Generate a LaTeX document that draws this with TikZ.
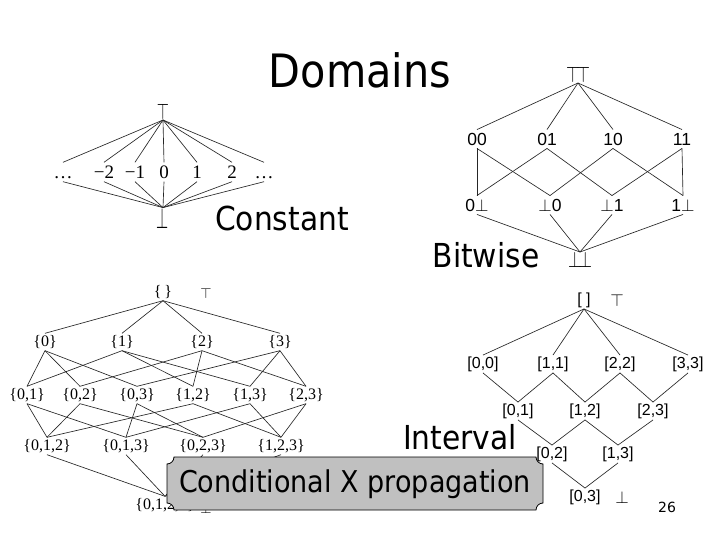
\documentclass[tikz,border=0pt]{standalone}
\usepackage{fontspec}
\setmainfont{Liberation Serif}
\newfontfamily\labfont[FakeStretch=0.9]{DejaVu Sans}
\newfontfamily\helfont{Liberation Sans}
\newfontfamily\numfont{DejaVu Sans}
\definecolor{boxgray}{RGB}{192,192,192}
\begin{document}
\begin{tikzpicture}[x=1pt,y=-1pt,
  edge/.style={line width=0.65pt,black!85},
  cst/.style={font=\fontsize{19}{21}\selectfont,inner sep=3pt,text height=13pt,text depth=0pt},
  sym/.style={inner sep=0pt,font=\fontsize{18}{20}\selectfont},
  bw/.style={font=\helfont\fontsize{17.5}{19}\selectfont,inner sep=3pt,text height=12.5pt,text depth=0pt},
  iv/.style={font=\helfont\fontsize{16}{18}\selectfont,inner sep=1.5pt,text height=11.5pt,text depth=3pt},
  ser/.style={font=\fontsize{16}{18}\selectfont,inner sep=1.5pt,text height=11pt,text depth=3pt},
  lab/.style={font=\labfont\fontsize{33}{36}\selectfont,inner sep=0pt},
  ttl/.style={font=\labfont\fontsize{46}{50}\selectfont,inner sep=0pt}]
\useasboundingbox[fill=white] (0,0) rectangle (720,540);

% title
\node[ttl] (title) at (360,70) {Domains};

% ---------- Constant lattice ----------
\node[sym] (ct) at (163,112) {\scalebox{0.9}[1.3]{$\top$}};
\node[cst] (c1) at (63,172) {\ldots};
\node[cst] (c2) at (104,172) {−2};
\node[cst] (c3) at (135,172) {−1};
\node[cst] (c4) at (164,172) {0};
\node[cst] (c5) at (197,172) {1};
\node[cst] (c6) at (232,172) {2};
\node[cst] (c7) at (264,172) {\ldots};
\node[sym] (cb) at (163,218) {\scalebox{0.9}[1.7]{$\bot$}};
\foreach \n in {c1,c2,c3,c4,c5,c6,c7}{
  \draw[edge] (ct.south) -- (\n.north);
  \draw[edge] (\n.south) -- (cb.north);
}
\node[lab] (constant) at (282,218) {Constant};

% ---------- Bitwise lattice ----------
\node[inner sep=0pt,font=\fontsize{16}{18}\selectfont] (bt) at (578,75) {\scalebox{1}[1.3]{$\top\!\top$}};
\node[bw] (b00) at (477,139) {00};
\node[bw] (b01) at (547,139) {01};
\node[bw] (b10) at (613,139) {10};
\node[bw] (b11) at (682,139) {11};
\node[bw] (b0x) at (477,205) {0$\bot$};
\node[bw] (bx0) at (550,205) {$\bot$0};
\node[bw] (bx1) at (612,205) {$\bot$1};
\node[bw] (b1x) at (683,205) {1$\bot$};
\node[inner sep=0pt,font=\fontsize{16}{18}\selectfont] (bb) at (580,260) {\scalebox{1}[1.3]{$\bot\!\bot$}};
\foreach \n in {b00,b01,b10,b11}{\draw[edge] (bt.south) -- (\n.north);}
\foreach \a/\b in {b00/b0x,b00/bx0,b01/b0x,b01/bx1,b10/bx0,b10/b1x,b11/bx1,b11/b1x}{\draw[edge] (\a.south) -- (\b.north);}
\foreach \n in {b0x,bx0,bx1,b1x}{\draw[edge] (\n.south) -- (bb.north);}
\node[lab] (bitwise) at (486,255) {Bitwise};

% ---------- Subset lattice ----------
\node[ser] (s) at (163,292) {\{\,\}};
\node[inner sep=0pt,font=\fontsize{15}{17}\selectfont] (stop) at (206,293) {$\top$};
\node[ser] (s0) at (45,342) {\{0\}};
\node[ser] (s1) at (122,342) {\{1\}};
\node[ser] (s2) at (202,342) {\{2\}};
\node[ser] (s3) at (280,342) {\{3\}};
\node[ser] (s01) at (27,395) {\{0,1\}};
\node[ser] (s02) at (80,395) {\{0,2\}};
\node[ser] (s03) at (137,395) {\{0,3\}};
\node[ser] (s12) at (193,395) {\{1,2\}};
\node[ser] (s13) at (250,395) {\{1,3\}};
\node[ser] (s23) at (306,395) {\{2,3\}};
\node[ser] (s012) at (47,446) {\{0,1,2\}};
\node[ser] (s013) at (126,446) {\{0,1,3\}};
\node[ser] (s023) at (203,446) {\{0,2,3\}};
\node[ser] (s123) at (281,446) {\{1,2,3\}};
\node[ser] (s0123) at (165,505) {\{0,1,2,3\}};
\node[inner sep=0pt,font=\fontsize{15}{17}\selectfont] (sbot) at (206,508) {$\bot$};
\foreach \n in {s0,s1,s2,s3}{\draw[edge] (s.south) -- (\n.north);}
\foreach \a/\b in {s0/s01,s0/s02,s0/s03,s1/s01,s1/s12,s1/s13,s2/s02,s2/s12,s2/s23,s3/s03,s3/s13,s3/s23,
  s01/s012,s02/s012,s12/s012,s01/s013,s03/s013,s13/s013,s02/s023,s03/s023,s23/s023,s12/s123,s13/s123,s23/s123,
  s012/s0123,s013/s0123,s023/s0123,s123/s0123}{\draw[edge] (\a.south) -- (\b.north);}

% ---------- Interval lattice ----------
\node[iv] (i) at (584,300) {[ ]};
\node[inner sep=0pt,font=\fontsize{16}{18}\selectfont] (itop) at (617,300) {$\top$};
\node[iv] (i00) at (483,364) {[0,0]};
\node[iv] (i11) at (553,364) {[1,1]};
\node[iv] (i22) at (620,364) {[2,2]};
\node[iv] (i33) at (688,364) {[3,3]};
\node[iv] (i01) at (518,411) {[0,1]};
\node[iv] (i12) at (585,411) {[1,2]};
\node[iv] (i23) at (653,411) {[2,3]};
\node[iv] (i02) at (552,454) {[0,2]};
\node[iv] (i13) at (618,454) {[1,3]};
\node[iv] (i03) at (585,497) {[0,3]};
\node[inner sep=0pt,font=\fontsize{16}{18}\selectfont] (ibot) at (622,497) {$\bot$};
\foreach \n in {i00,i11,i22,i33}{\draw[edge] (i.south) -- (\n.north);}
\foreach \a/\b in {i00/i01,i11/i01,i11/i12,i22/i12,i22/i23,i33/i23,i01/i02,i12/i02,i12/i13,i23/i13,i02/i03,i13/i03}{\draw[edge] (\a.south) -- (\b.north);}
\node[lab] (interval) at (460,437) {Interval};

% ---------- Callout box ----------
\draw[line width=0.8pt,fill=boxgray]
  (174,457) -- (536,457) arc[start angle=180,end angle=270,radius=7pt]
  -- (543,503) arc[start angle=90,end angle=180,radius=7pt]
  -- (174,510) arc[start angle=0,end angle=90,radius=7pt]
  -- (167,464) arc[start angle=270,end angle=360,radius=7pt] -- cycle;
\node[font=\labfont\fontsize{30}{34}\selectfont,inner sep=0pt] (cxp) at (355,484) {Conditional X propagation};

% page number
\node[font=\numfont\fontsize{14}{16}\selectfont,inner sep=0pt] (pg) at (667,507) {26};
\end{tikzpicture}
\end{document}
